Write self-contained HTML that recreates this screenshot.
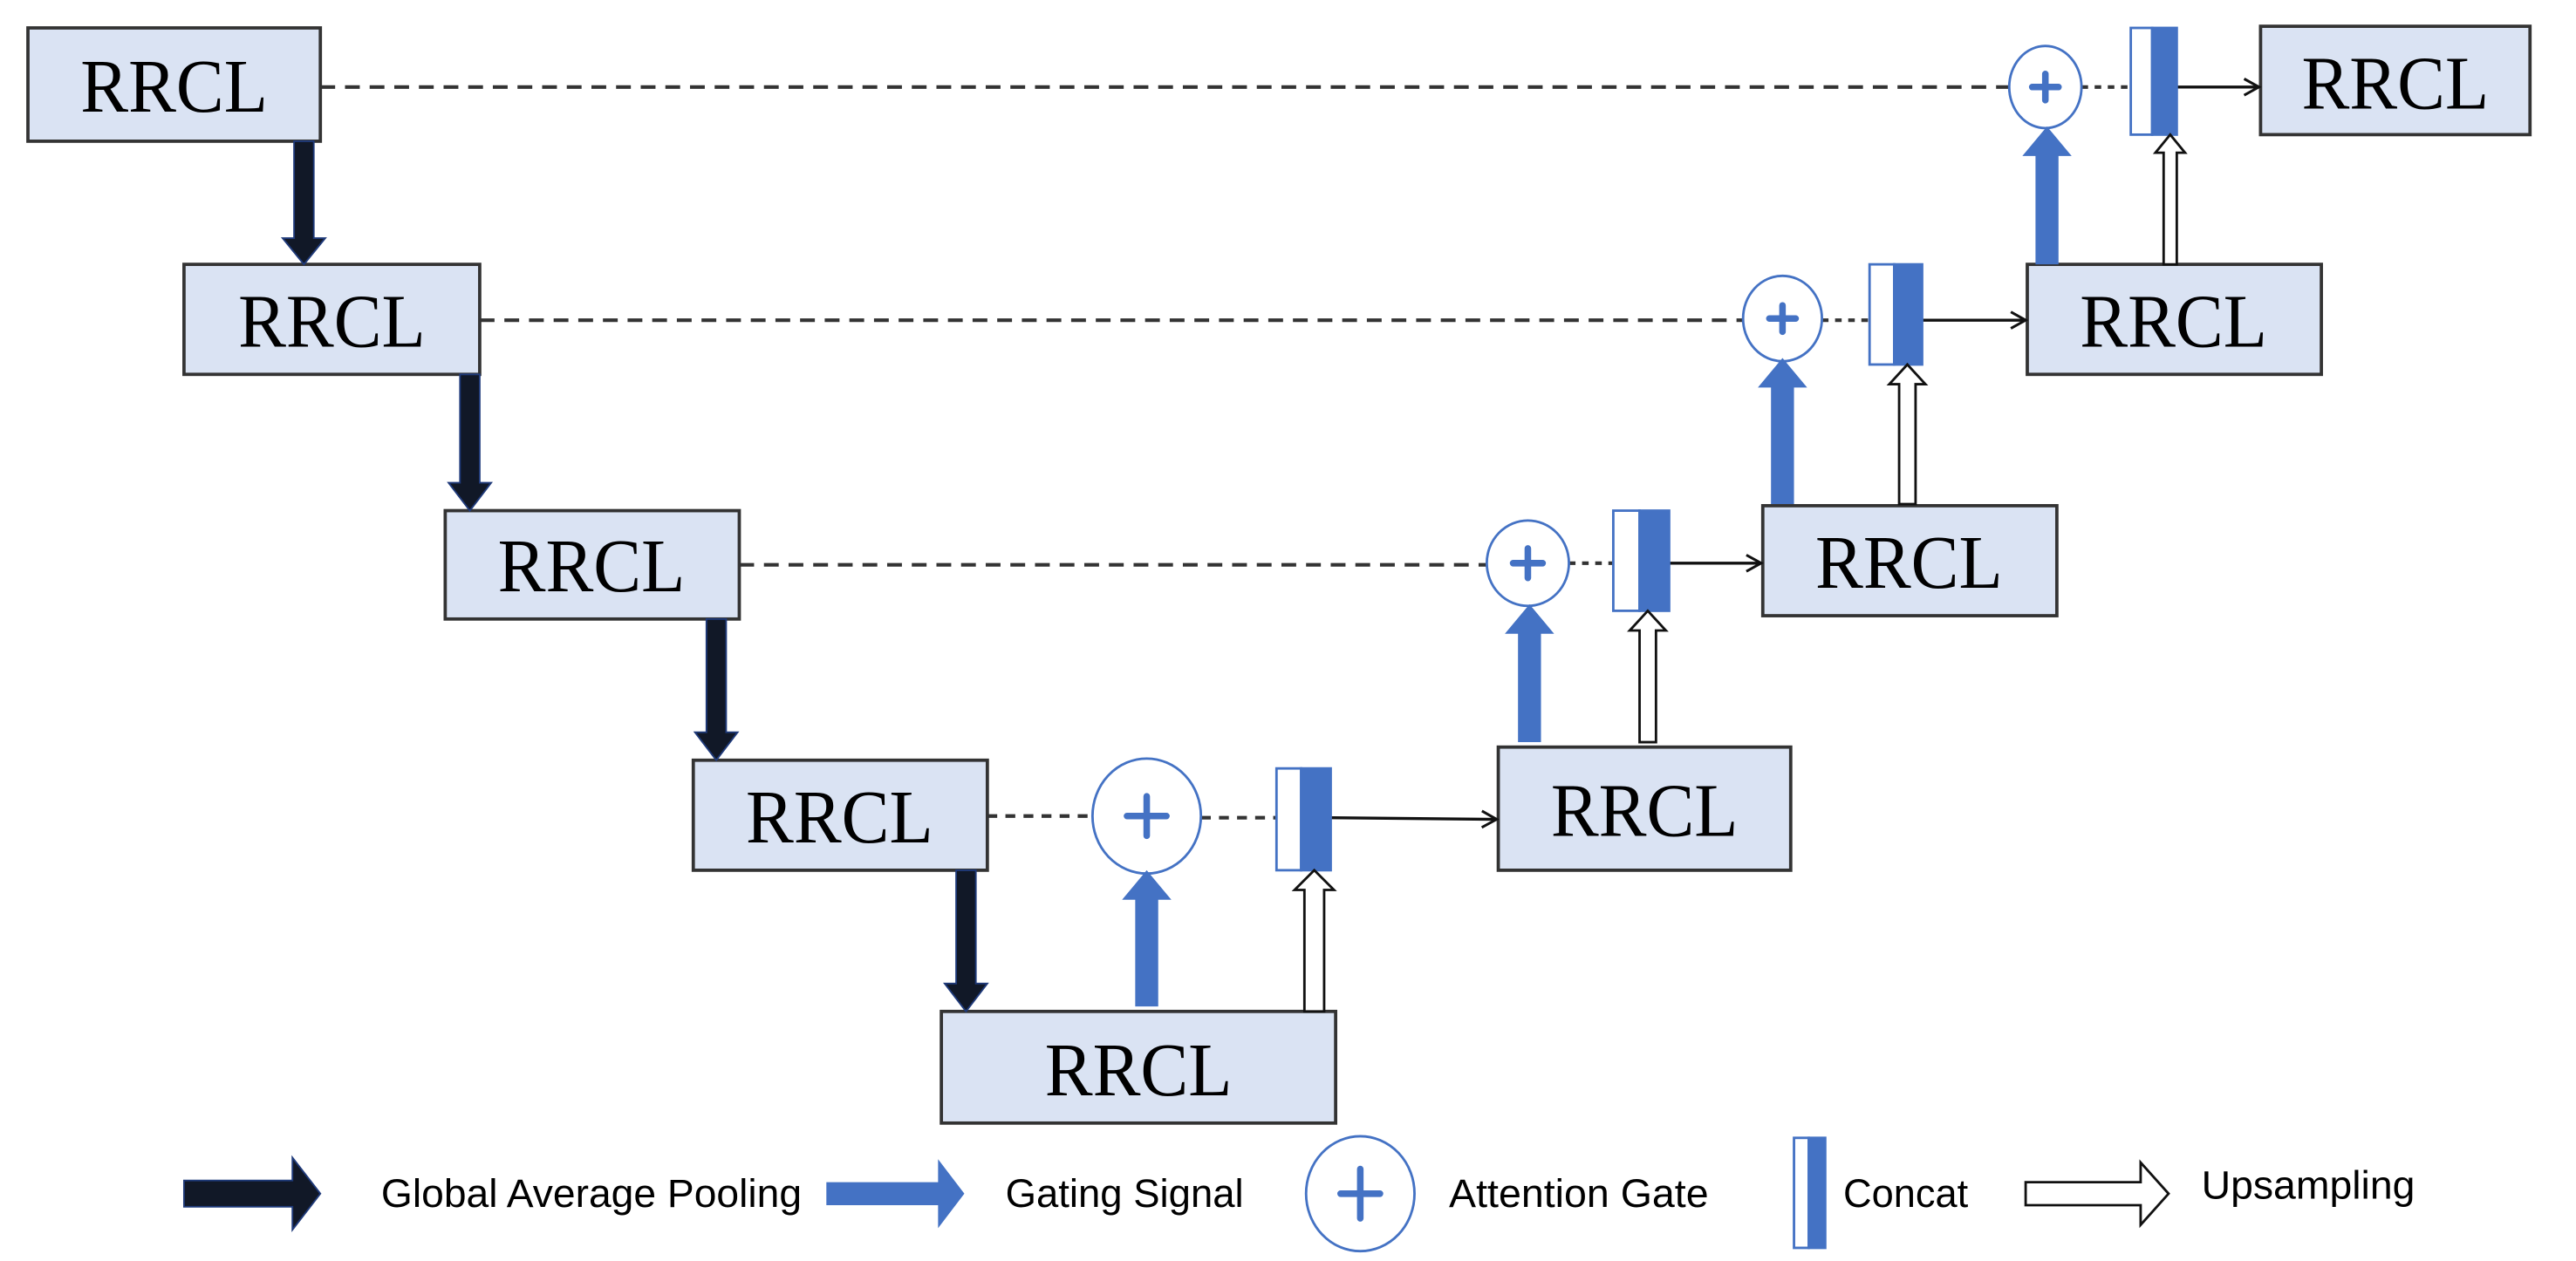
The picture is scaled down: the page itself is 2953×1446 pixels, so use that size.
<!DOCTYPE html>
<html><head><meta charset="utf-8"><style>html,body{margin:0;padding:0;background:#fff}svg{display:block}</style></head>
<body>
<svg width="2953" height="1446" viewBox="0 0 1568 768" preserveAspectRatio="none" xmlns="http://www.w3.org/2000/svg">
<defs>
<marker id="ah" markerWidth="12" markerHeight="12" refX="10" refY="6" orient="auto" markerUnits="userSpaceOnUse"><path d="M1,1 L10,6 L1,11" fill="none" stroke="#111" stroke-width="1.6"/></marker>
</defs>
<g fill="#dae3f3" stroke="#333" stroke-width="2">
<rect x="17" y="17" width="178" height="69"/>
<rect x="112" y="161" width="180" height="67"/>
<rect x="271" y="311" width="179" height="66"/>
<rect x="422" y="463" width="179" height="67"/>
<rect x="573" y="616" width="240" height="68"/>
<rect x="912" y="455" width="178" height="75"/>
<rect x="1073" y="308" width="179" height="67"/>
<rect x="1234" y="161" width="179" height="67"/>
<rect x="1376" y="16" width="164" height="66"/>
</g>
<g font-family="Liberation Serif, serif" font-size="46" fill="#000" text-anchor="middle" lengthAdjust="spacingAndGlyphs">
<text x="106" y="68" textLength="114" lengthAdjust="spacingAndGlyphs">RRCL</text>
<text x="202" y="211" textLength="114" lengthAdjust="spacingAndGlyphs">RRCL</text>
<text x="360" y="360" textLength="114" lengthAdjust="spacingAndGlyphs">RRCL</text>
<text x="511" y="513" textLength="114" lengthAdjust="spacingAndGlyphs">RRCL</text>
<text x="693" y="667" textLength="114" lengthAdjust="spacingAndGlyphs">RRCL</text>
<text x="1001" y="509" textLength="114" lengthAdjust="spacingAndGlyphs">RRCL</text>
<text x="1162" y="358" textLength="114" lengthAdjust="spacingAndGlyphs">RRCL</text>
<text x="1323" y="211" textLength="114" lengthAdjust="spacingAndGlyphs">RRCL</text>
<text x="1458" y="66" textLength="114" lengthAdjust="spacingAndGlyphs">RRCL</text>
</g>
<g stroke="#333" stroke-width="2.2" stroke-dasharray="9,6" fill="none">
<line x1="195" y1="53" x2="1223" y2="53"/>
<line x1="1267" y1="53" x2="1297" y2="53" stroke-dasharray="4,4"/>
<line x1="292" y1="195" x2="1061" y2="195"/>
<line x1="1109" y1="195" x2="1138" y2="195" stroke-dasharray="4,4"/>
<line x1="450" y1="344" x2="905" y2="344"/>
<line x1="955" y1="343" x2="982" y2="343" stroke-dasharray="4,4"/>
<line x1="601" y1="497" x2="665" y2="497" stroke-dasharray="6,5"/>
<line x1="731" y1="498" x2="777" y2="498" stroke-dasharray="6,5"/>
</g>
<g stroke="#111" stroke-width="1.8" marker-end="url(#ah)">
<line x1="1325" y1="53" x2="1375" y2="53"/>
<line x1="1170" y1="195" x2="1233" y2="195"/>
<line x1="1016" y1="343" x2="1072" y2="343"/>
<line x1="810" y1="498" x2="911" y2="499"/>
</g>
<g fill="#fff" stroke="#4472c4" stroke-width="1.5">
<ellipse cx="1245" cy="53" rx="22" ry="25"/>
<ellipse cx="1085" cy="194" rx="24" ry="26"/>
<ellipse cx="930" cy="343" rx="25" ry="26"/>
<ellipse cx="698" cy="497" rx="33" ry="35"/>
<ellipse cx="828" cy="727" rx="33" ry="35"/>
</g>
<g stroke="#4472c4" stroke-width="4" stroke-linecap="round">
<path d="M1237,53h16M1245,45v16"/>
<path d="M1077,194h16M1085,186v16"/>
<path d="M921,343h18M930,334v18"/>
<path d="M686,497h24M698,485v24"/>
<path d="M816,727h24M828,712v30"/>
</g>
<g stroke="#4472c4" stroke-width="1.5">
<rect x="1297" y="17" width="13" height="65" fill="#fff"/><rect x="1310" y="17" width="15" height="65" fill="#4472c4"/>
<rect x="1138" y="161" width="15" height="61" fill="#fff"/><rect x="1153" y="161" width="17" height="61" fill="#4472c4"/>
<rect x="982" y="311" width="16" height="61" fill="#fff"/><rect x="998" y="311" width="18" height="61" fill="#4472c4"/>
<rect x="777" y="468" width="15" height="62" fill="#fff"/><rect x="792" y="468" width="18" height="62" fill="#4472c4"/>
<rect x="1092" y="693" width="9" height="67" fill="#fff"/><rect x="1101" y="693" width="10" height="67" fill="#4472c4"/>
</g>
<g fill="#111827" stroke="#1f3a7a" stroke-width="1">
<path d="M179,86h12v59h7l-13,16l-13,-16h7z"/>
<path d="M280,228h12v66h7l-13,17l-13,-17h7z"/>
<path d="M430,377h12v69h7l-13,17l-13,-17h7z"/>
<path d="M582,530h12v69h7l-13,17l-13,-17h7z"/>
<path d="M112,719h66v-14l17,22l-17,22v-14h-66z"/>
</g>
<g fill="#4472c4">
<path d="M1239,161v-66h-8l15,-18l15,18h-8v66z"/>
<path d="M1078,307v-71h-8l15,-18l15,18h-8v71z"/>
<path d="M924,452v-66h-8l15,-18l15,18h-8v66z"/>
<path d="M691,613v-65h-8l15,-18l15,18h-8v65z"/>
<path d="M503,720h68v-14l16,21l-16,21v-14h-68z"/>
</g>
<g fill="#fff" stroke="#111" stroke-width="1.5">
<path d="M1317,161v-68h-5l9,-11l9,11h-5v68z"/>
<path d="M1156,307v-73h-6l11,-12l11,12h-6v73z"/>
<path d="M998,452v-68h-6l11,-12l11,12h-6v68z"/>
<path d="M794,616v-74h-6l12,-12l12,12h-6v74z"/>
<path d="M1233,720h70v-12l17,19l-17,19v-12h-70z"/>
</g>
<g font-family="Liberation Sans, sans-serif" font-size="24" fill="#000">
<text x="232" y="735" textLength="256" lengthAdjust="spacingAndGlyphs">Global Average Pooling</text>
<text x="612" y="735" textLength="145" lengthAdjust="spacingAndGlyphs">Gating Signal</text>
<text x="882" y="735" textLength="158" lengthAdjust="spacingAndGlyphs">Attention Gate</text>
<text x="1122" y="735" textLength="76" lengthAdjust="spacingAndGlyphs">Concat</text>
<text x="1340" y="730" textLength="130" lengthAdjust="spacingAndGlyphs">Upsampling</text>
</g>
</svg>
</body></html>
